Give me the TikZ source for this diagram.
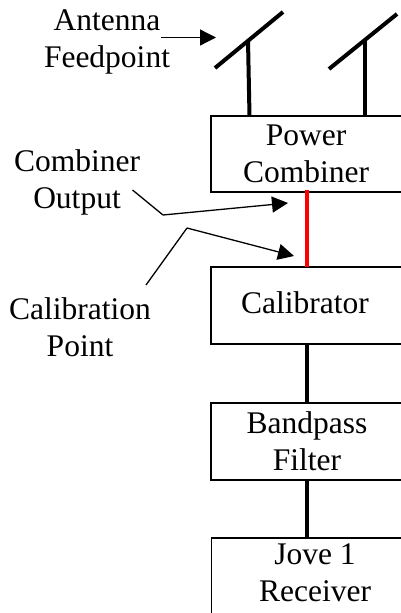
\documentclass[tikz,border=0pt]{standalone}
\usepackage{fontspec}
\setmainfont{Liberation Serif}
\usetikzlibrary{arrows.meta}
\tikzset{x=1pt,y=-1pt,
 blk/.style={draw=black,line width=1.5pt,minimum width=200pt,anchor=north west,inner sep=0pt,outer sep=0pt},
 txt/.style={font=\fontsize{31.5}{37}\selectfont,align=center,inner sep=0pt},
 lead/.style={draw=black,line width=1.3pt},
 tip/.style={-{Triangle[length=16pt,width=16pt]}},
 wire/.style={draw=black,line width=4pt}}
\begin{document}
\begin{tikzpicture}
\useasboundingbox (0,0) rectangle (401,613);
\clip (0,0) rectangle (401,613);
\node[blk,minimum height=76pt] (pc) at (211,116) {};
\node[blk,minimum height=77pt] (cal) at (211,267) {};
\node[blk,minimum height=77pt] (bp) at (211,403) {};
\node[blk,minimum height=90pt] (rx) at (211.5,538) {};
\node[txt] (tpc) at (306,154) {Power\\Combiner};
\node[txt] (tcal) at (305,303) {Calibrator};
\node[txt] (tbp) at (307,441.5) {Bandpass\\Filter};
\node[txt] (trx) at (315,573) {Jove 1\\Receiver};
\node[txt] (af) at (107,42) {Antenna\\Feedpoint};
\node[txt] (co) at (77,182) {Combiner\\Output};
\node[txt] (cp) at (80,327) {Calibration\\Point};
\coordinate (a1l) at (215,68); \coordinate (a1r) at (283,12); \coordinate (a1m) at (248,40);
\coordinate (a2l) at (329,69); \coordinate (a2r) at (397,14); \coordinate (a2m) at (365,40);
\draw[wire] (a1l) -- (a1r);
\draw[wire] (a2l) -- (a2r);
\draw[wire] (a1m) -- (249.5,116);
\draw[wire] (a2m) -- (365,116);
\draw[draw=red,line width=4pt] (307,190) -- (307,267);
\draw[wire] (307,344) -- (307,403);
\draw[wire] (307,480) -- (307,538);
\draw[lead,tip] (161,37.5) -- (216,37.5);
\draw[lead] (132.5,190) -- (163,215);
\draw[lead,tip] (163,215) -- (288,203);
\draw[lead] (146,285) -- (187,228);
\draw[lead,tip] (187,228) -- (294,256);
\end{tikzpicture}
\end{document}
